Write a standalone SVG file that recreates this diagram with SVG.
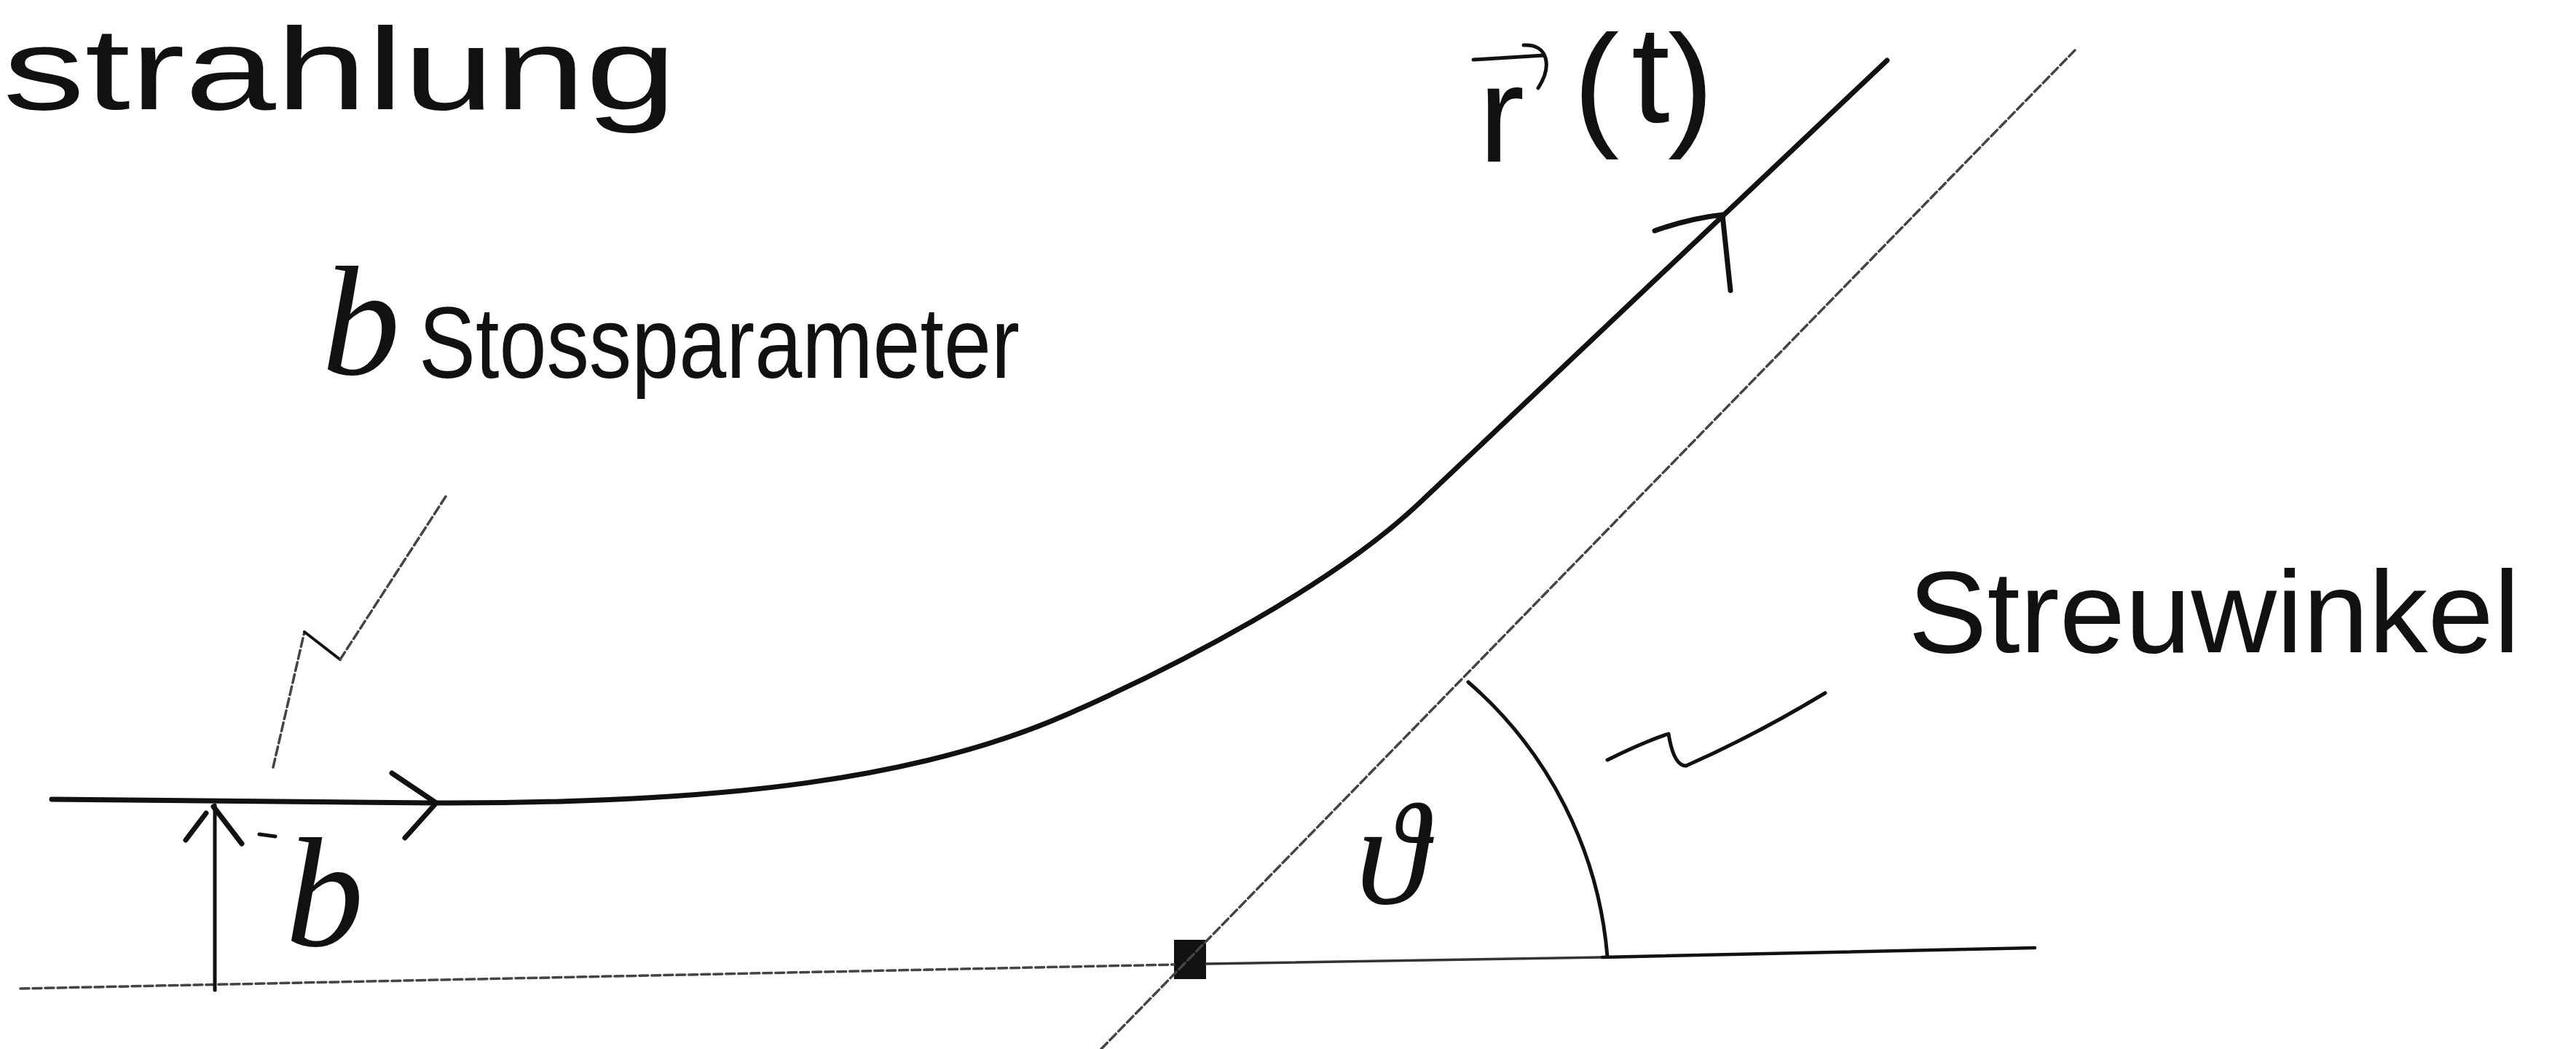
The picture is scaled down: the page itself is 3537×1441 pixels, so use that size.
<svg xmlns="http://www.w3.org/2000/svg" width="3537" height="1441" viewBox="0 0 3537 1441">
<style>
.hand{font-family:"Liberation Sans","DejaVu Sans",sans-serif;fill:#111}
.math{font-family:"Liberation Serif","DejaVu Serif",serif;font-style:italic;fill:#111}
.ink{fill:none;stroke:#111;stroke-linecap:round;stroke-linejoin:round}
.thick{stroke-width:7}
.mid{stroke-width:5}
.thin{fill:none;stroke:#333;stroke-width:3.5;stroke-linecap:round}
.dots{fill:none;stroke:#444;stroke-width:3.5;stroke-dasharray:12 5;stroke-linecap:round}
</style>
<rect width="3537" height="1441" fill="#fff"/>
<g id="title">
<text class="hand" x="4" y="150" font-size="160" textLength="925" lengthAdjust="spacingAndGlyphs">strahlung</text>
</g>
<g id="label-r">
<text class="hand" font-size="190" x="2030 2160 2240 2290" y="222 180 168 180">r(t)</text>
<path class="ink mid" d="M2023,82 L2120,76 M2092,62 C2125,60 2132,90 2112,121"/>
</g>
<g id="label-stoss">
<text class="math" x="442" y="514" font-size="215">b</text>
<text class="hand" x="575" y="519" font-size="140" textLength="825" lengthAdjust="spacingAndGlyphs">Stossparameter</text>
</g>
<g id="label-b">
<text class="math" x="392" y="1299" font-size="215">b</text>
<path class="ink mid" d="M356,1146 L378,1149"/>
</g>
<g id="label-theta">
<text class="math" x="1862" y="1241" font-size="200">ϑ</text>
</g>
<g id="label-streuwinkel">
<text class="hand" x="2620" y="896" font-size="160" textLength="840" lengthAdjust="spacingAndGlyphs">Streuwinkel</text>
</g>
<g id="origin">
<rect x="1612" y="1291" width="44" height="54" fill="#111"/>
</g>
<g id="connectors">
<path class="dots" d="M28,1358 L1612,1325"/>
<path class="thin" d="M1656,1324 L2200,1315"/>
<path class="ink" stroke-width="4.5" d="M2200,1315 L2794,1302"/>
<path class="dots" stroke-dasharray="14 3" d="M1512,1441 L2849,69"/>
<path class="ink thick" d="M71,1098 L600,1103 C1000,1104 1266,1069 1466,981 C1616,915 1830,804 1950,690 L2591,83"/>
<path class="ink thick" d="M538,1062 L599,1103 L556,1151"/>
<path class="ink thick" d="M2272,317 Q2320,300 2365,295 L2376,399"/>
<path class="ink" stroke-width="5" d="M295,1360 L295,1106"/>
<path class="ink thick" d="M255,1154 L283,1117 M293,1108 L332,1159"/>
<path class="ink" stroke-width="5" d="M2016,937 A560,560 0 0 1 2207,1314"/>
<path class="ink" stroke-width="5" d="M2207,1044 Q2255,1020 2291,1008 Q2298,1052 2315,1052 Q2410,1010 2506,952"/>
<path class="dots" d="M375,1054 L418,868"/>
<path class="ink" stroke-width="4" d="M418,868 L467,906"/>
<path class="dots" d="M467,906 L612,682"/>
</g>
</svg>
